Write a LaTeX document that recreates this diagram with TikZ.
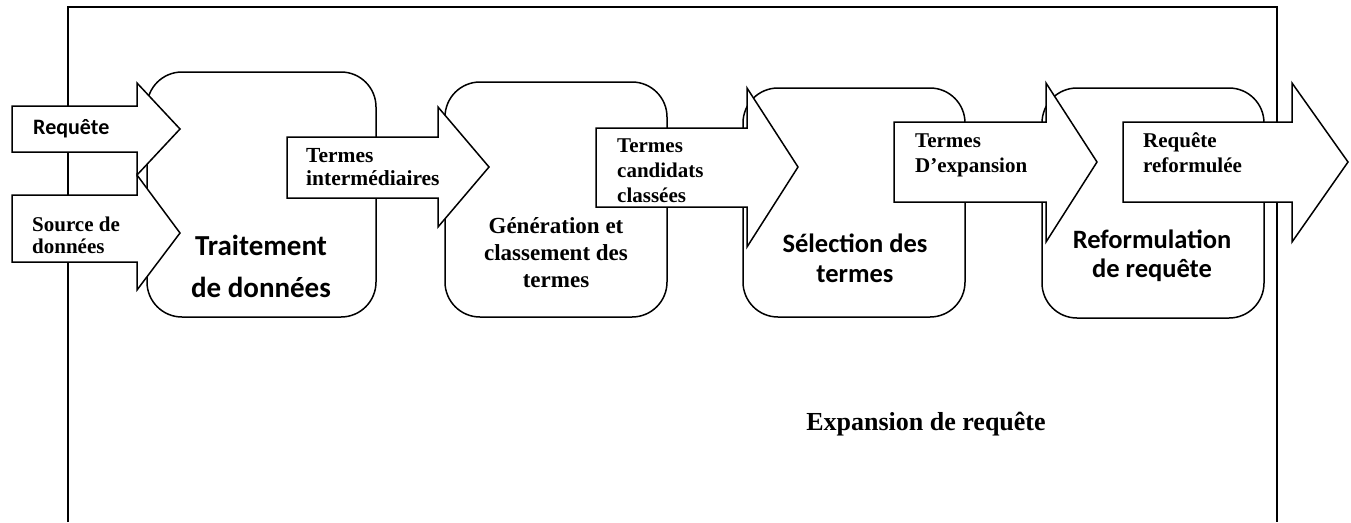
\documentclass[tikz,border=0pt]{standalone}
\usepackage{fontspec}
\setmainfont{Liberation Serif}
\newfontfamily\calibrifont{Carlito}
\tikzset{
    x={1pt},
    y={-1pt},
    frame line/.style={
        draw=black,
        line width={1.5pt},
    },
    stage box/.style 2 args={
        draw=black, fill=white,
        rounded corners={35pt},
        line width={1.5pt},
        inner sep=0pt, outer sep=0pt,
        minimum width={#1},
        minimum height={#2},
    },
    block arrow/.style={
        draw=black, fill=white,
        line width={1.5pt},
        line join=miter,
    },
    arrow label/.style={
        font={\bfseries\fontsize{21}{25}\selectfont},
        align=left,
        anchor=base west,
        inner sep=0pt,
    },
    stage label/.style 2 args={
        font={\calibrifont\bfseries\fontsize{#1}{#2}\selectfont},
        align=center,
        anchor=base,
        inner sep=0pt,
    },
    serif stage label/.style={
        font={\bfseries\fontsize{23}{27}\selectfont},
        align=center,
        anchor=base,
        inner sep=0pt,
    },
}

\begin{document}
\begin{tikzpicture}
\useasboundingbox (0,0) rectangle (1351,522);
% background
\path[frame line] (68,522) -- (68,7) -- (1277,7) -- (1277,522);
% stages
\node[stage box={229}{245}] (traitement) at (261.5,194.5) {};
\node[stage box={222}{235}] (generation) at (556,199.5) {};
\node[stage box={222}{229}] (selection) at (854,202.5) {};
\node[stage box={222}{230}] (reformulation) at (1153,203) {};
% arrows
\path[block arrow] (12,106) -- (137,106) -- (137,83) -- (180,129) -- (137,175) -- (137,152) -- (12,152) -- cycle;
\path[block arrow] (12,195) -- (137,195) -- (137,175) -- (180,233) -- (137,290) -- (137,262) -- (12,262) -- cycle;
\path[block arrow] (287,137) -- (438,137) -- (438,107) -- (489,167) -- (438,227) -- (438,198) -- (287,198) -- cycle;
\path[block arrow] (596,128) -- (747,128) -- (747,88) -- (798,167) -- (747,247) -- (747,207) -- (596,207) -- cycle;
\path[block arrow] (894,122) -- (1046,122) -- (1046,83) -- (1097,162) -- (1046,242) -- (1046,202) -- (894,202) -- cycle;
\path[block arrow] (1123,122) -- (1292,122) -- (1292,83) -- (1348,162) -- (1292,242) -- (1292,202) -- (1123,202) -- cycle;
% labels (base = last line)
\node[arrow label, font={\calibrifont\bfseries\fontsize{22}{24}\selectfont}] (requete) at (33,134) {Requête};
\node[arrow label, font={\bfseries\fontsize{21}{22}\selectfont}] (source) at (32,253) {Source de\\données};
\node[arrow label, font={\bfseries\fontsize{21.5}{23}\selectfont}] (intermediaires) at (306,185) {Termes\\intermédiaires};
\node[arrow label] (candidats) at (617,202) {Termes\\candidats\\classées};
\node[arrow label] (expansion) at (915,172) {Termes\\D’expansion};
\node[arrow label] (reformulee) at (1143,172) {Requête\\reformulée};
\node[stage label={29}{42}] (traitement label) at (261,297) {Traitement\\de données};
\node[serif stage label] (generation label) at (556,287) {Génération et\\classement des\\termes};
\node[stage label={26.5}{30}] (selection label) at (855,282) {Sélection des\\termes};
\node[stage label={26.5}{29}] (reformulation label) at (1152,277) {Reformulation\\de requête};
\node[anchor=base, inner sep=0pt, font={\bfseries\fontsize{26}{30}\selectfont}] (titre) at (926,430) {Expansion de requête};
\end{tikzpicture}
\end{document}
